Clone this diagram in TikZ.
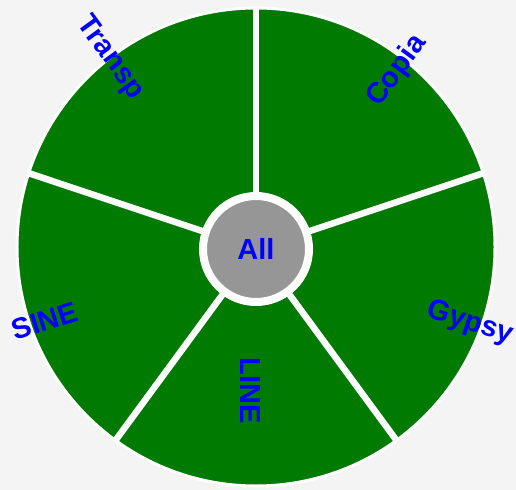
\documentclass[tikz,border=0pt]{standalone}
\usepackage{fontspec}
\setmainfont{Liberation Sans}
\definecolor{bg}{HTML}{F4F4F4}
\definecolor{wedge}{HTML}{007A00}
\definecolor{hubgray}{HTML}{969696}
\definecolor{labelblue}{HTML}{0000FF}
\begin{document}
\begin{tikzpicture}[
x=1bp, y=1bp,
every node/.style={
    text=labelblue,
    font=\fontsize{29bp}{32bp}\selectfont\bfseries,
    inner sep=0pt
},
spoke/.style={draw=white, line width=6.5bp},
hub/.style={circle, fill=hubgray, draw=white, line width=8bp, minimum size=106bp}
]
\fill[bg] (-256,-243) rectangle (260,247);
\useasboundingbox (-256,-243) rectangle (260,247);

%---------------- Wheel ----------------
\coordinate (o) at (0,0);
\fill[wedge] (o) circle (239);
\draw[white, line width=3bp] (o) circle (239);

\foreach \a in {90,18,-54,-126,162} {
  \coordinate (rim\a) at (\a:240);
  \draw[spoke] (0,-2) -- (rim\a);
}

\node[hub] (all) at (0,-2) {All};

%---------------- Labels ----------------
\node[rotate=-54] (transp) at (-146,189) {Transp};
\node[rotate=54] (copia) at (141,176) {Copia};
\node[rotate=-18] (gypsy) at (214,-76) {Gypsy};
\node[rotate=-90] (line) at (-6,-144) {LINE};
\node[rotate=18] (sine) at (-211,-74) {SINE};

\end{tikzpicture}
\end{document}
